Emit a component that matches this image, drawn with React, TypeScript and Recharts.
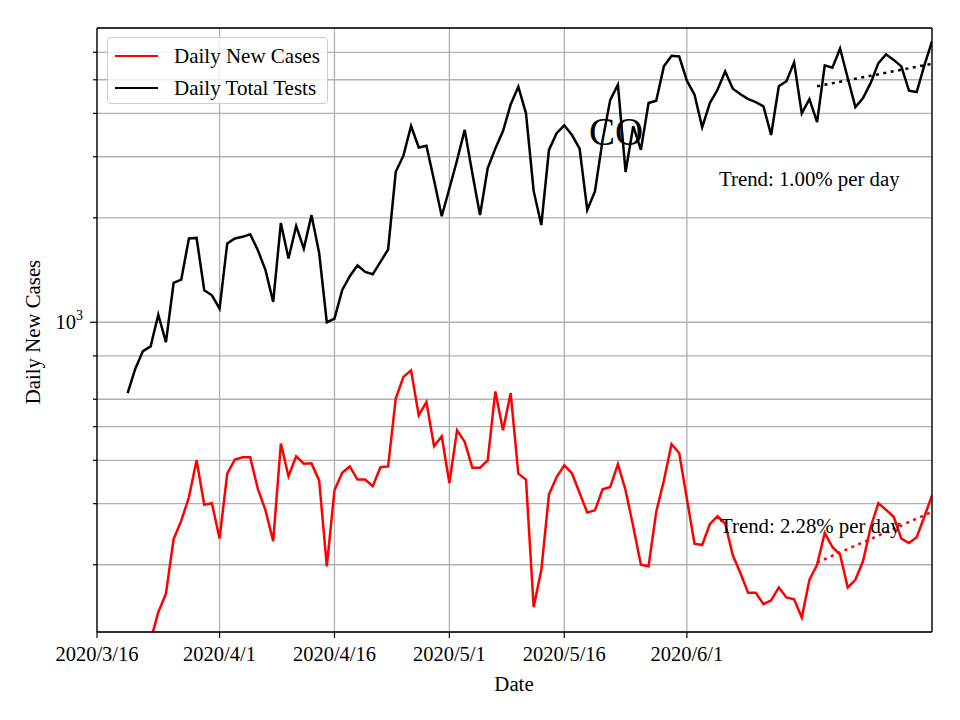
import { LineChart, Line, XAxis, YAxis, CartesianGrid, Legend } from "recharts";

const FONT = "'Liberation Serif', 'DejaVu Serif', serif";

// first data point is 2020/3/20 (day 4 after 2020/3/16)
const firstDay = 4;

const dailyTests = [
  625, 735, 826, 852, 1052, 876, 1298, 1328, 1744, 1750, 1237, 1196, 1095, 1686, 1744, 1763,
  1794, 1613, 1413, 1144, 1933, 1527, 1895, 1631, 2036, 1584, 1000, 1025, 1237, 1357, 1460,
  1397, 1375, 1493, 1621, 2714, 3021, 3679, 3191, 3225, 2568, 2021, 2430, 2930, 3585, 2685,
  2036, 2778, 3170, 3556, 4245, 4774, 4002, 2391, 1907, 3139, 3509, 3696, 3465, 3163, 2108,
  2383, 3350, 4376, 4839, 2712, 3673, 3139, 4284, 4352, 5465, 5860, 5837, 4970, 4530, 3646,
  4284, 4679, 5284, 4710, 4540, 4396, 4312, 4192, 3465, 4790, 4950, 5612, 4002, 4396, 3777,
  5503, 5420, 6154, 5058, 4170, 4428, 4896, 5584, 5920, 5706, 5465, 4648, 4608, 5503, 6448,
];

const dailyCases = [
  70, 85, 100, 121, 146, 165, 237, 268, 313, 400, 298, 301, 238, 366, 402, 408, 408, 331, 287,
  234, 447, 360, 411, 391, 392, 350, 198, 328, 368, 384, 352, 352, 337, 382, 384, 603, 696,
  727, 539, 589, 439, 469, 344, 488, 452, 381, 381, 400, 632, 488, 625, 366, 352, 151, 193,
  319, 358, 387, 367, 322, 283, 287, 330, 335, 390, 328, 258, 200, 198, 284, 350, 445, 420,
  310, 230, 228, 262, 276, 263, 213, 189, 166, 166, 154, 158, 172, 161, 159, 141, 181, 200,
  247, 225, 214, 172, 181, 205, 257, 301, 288, 275, 238, 231, 240, 275, 317,
];

// trend fits over the last 15 days
const trendDays = [94, 109];
const testsTrend = [4790, 5560];
const casesTrend = [203, 284];

const xTicks = [0, 16, 31, 46, 61, 77];
const xTickLabels = ["2020/3/16", "2020/4/1", "2020/4/16", "2020/5/1", "2020/5/16", "2020/6/1"];
const yTicks = [200, 300, 400, 500, 600, 700, 800, 900, 1000, 2000, 3000, 4000, 5000, 6000];

const data = dailyTests.map((t, i) => ({ day: firstDay + i, tests: t, cases: dailyCases[i] }));
const testsTrendData = trendDays.map((d, i) => ({ day: d, v: testsTrend[i] }));
const casesTrendData = trendDays.map((d, i) => ({ day: d, v: casesTrend[i] }));

const PLOT_LEFT = 97;

function YTick(props: any) {
  const { y, payload } = props;
  const major = payload.value === 1000;
  return (
    <g>
      <line x1={PLOT_LEFT - (major ? 7 : 4)} x2={PLOT_LEFT} y1={y} y2={y} stroke="#000" strokeWidth={1.2} />
      {major && (
        <text x={PLOT_LEFT - 14} y={y + 7} textAnchor="end" fontFamily={FONT} fontSize={20.5} fill="#000">
          10<tspan dy={-9} fontSize={14}>3</tspan>
        </text>
      )}
    </g>
  );
}

function LegendBox() {
  const items = [
    { label: "Daily New Cases", color: "#ff0000" },
    { label: "Daily Total Tests", color: "#000000" },
  ];
  return (
    <div
      style={{
        width: 221,
        height: 67,
        boxSizing: "border-box",
        border: "1px solid #cccccc",
        borderRadius: 4,
        background: "rgba(255,255,255,0.8)",
        fontFamily: FONT,
        fontSize: 21,
        padding: "2px 0 0 7px",
      }}
    >
      {items.map((it) => (
        <div key={it.label} style={{ display: "flex", alignItems: "center", height: 32 }}>
          <div style={{ width: 43, height: 2.6, background: it.color, marginRight: 16 }} />
          <span>{it.label}</span>
        </div>
      ))}
    </div>
  );
}

export default function App() {
  return (
    <div style={{ position: "absolute", left: 0, top: 0, width: 960, height: 720, background: "#fff" }}>
      <LineChart width={960} height={720} data={data} margin={{ top: 28, right: 28, bottom: 58, left: 37 }}>
        <CartesianGrid stroke="#b0b0b0" strokeWidth={1.3} />
        <XAxis
          dataKey="day"
          type="number"
          domain={[0, 109]}
          ticks={xTicks}
          allowDataOverflow
          height={30}
          tickFormatter={(v: number) => xTickLabels[xTicks.indexOf(v)]}
          tick={{ fontFamily: FONT, fontSize: 20.5, fill: "#000" }}
          tickSize={6}
          tickMargin={8}
          tickLine={{ stroke: "#000", strokeWidth: 1.2 }}
          axisLine={{ stroke: "#000", strokeWidth: 1.3 }}
        />
        <YAxis
          type="number"
          scale="log"
          domain={[128, 7050]}
          allowDataOverflow
          ticks={yTicks}
          width={60}
          tick={<YTick />}
          tickLine={false}
          axisLine={{ stroke: "#000", strokeWidth: 1.3 }}
        />
        <Legend
          layout="vertical"
          align="center"
          verticalAlign="middle"
          wrapperStyle={{ top: 37, left: 107, width: 221 }}
          content={() => <LegendBox />}
        />
        <Line dataKey="cases" stroke="#ff0000" strokeWidth={2.5} dot={false} isAnimationActive={false} />
        <Line dataKey="tests" stroke="#000000" strokeWidth={2.5} dot={false} isAnimationActive={false} />
        <Line
          data={testsTrendData}
          dataKey="v"
          stroke="#000000"
          strokeWidth={2.5}
          strokeDasharray="3 4.5"
          dot={false}
          isAnimationActive={false}
          legendType="none"
        />
        <Line
          data={casesTrendData}
          dataKey="v"
          stroke="#ff0000"
          strokeWidth={2.5}
          strokeDasharray="3 4.5"
          dot={false}
          isAnimationActive={false}
          legendType="none"
        />
      </LineChart>
      <svg
        width={960}
        height={720}
        style={{ position: "absolute", left: 0, top: 0, pointerEvents: "none" }}
        fontFamily={FONT}
      >
        <line x1={97} x2={932} y1={28} y2={28} stroke="#000" strokeWidth={1.3} />
        <line x1={932} x2={932} y1={28} y2={632} stroke="#000" strokeWidth={1.3} />
        <text x={589} y={145} fontSize={39} fill="#000">CO</text>
        <text x={719} y={186} fontSize={20.8} fill="#000">Trend: 1.00% per day</text>
        <text x={720} y={533} fontSize={20.8} fill="#000">Trend: 2.28% per day</text>
        <text x={514} y={691} fontSize={20.8} fill="#000" textAnchor="middle">Date</text>
        <text x={40} y={332} fontSize={20.8} fill="#000" textAnchor="middle" transform="rotate(-90 40 332)">
          Daily New Cases
        </text>
      </svg>
    </div>
  );
}
